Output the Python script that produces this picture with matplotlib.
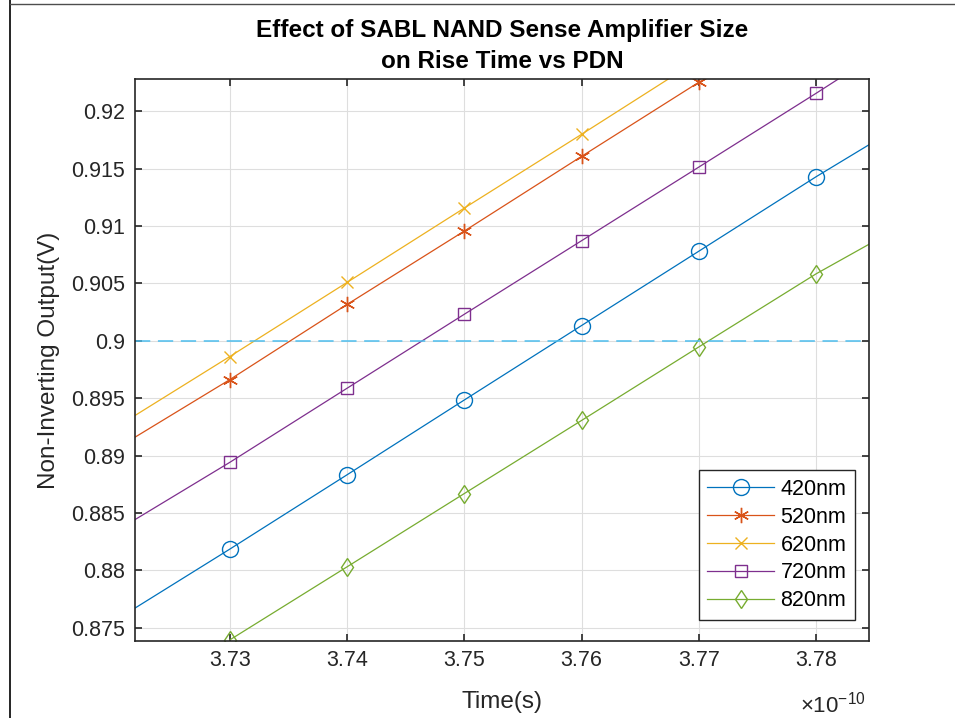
import numpy as np
import matplotlib
matplotlib.use("Agg")
import matplotlib.pyplot as plt
from matplotlib.lines import Line2D

plt.rcParams['font.family'] = ['Liberation Sans', 'DejaVu Sans']
plt.rcParams['mathtext.fontset'] = 'custom'
plt.rcParams['mathtext.rm'] = 'Liberation Sans'

# data (time in units of 1e-10 s, output in V)
t_420 = [3.7219, 3.73, 3.74, 3.75, 3.76, 3.77, 3.78, 3.7845]
v_420 = [0.87669, 0.88184, 0.88832, 0.89484, 0.90133, 0.90781, 0.91430, 0.91708]

t_520 = [3.7219, 3.73, 3.74, 3.75, 3.76, 3.77]
v_520 = [0.89158, 0.89661, 0.90316, 0.90956, 0.91607, 0.92253]

t_620 = [3.7219, 3.73, 3.74, 3.75, 3.76, 3.76737]
v_620 = [0.89347, 0.89862, 0.90508, 0.91156, 0.91799, 0.92279]

t_720 = [3.7219, 3.73, 3.74, 3.75, 3.76, 3.77, 3.78, 3.78186]
v_720 = [0.88440, 0.88940, 0.89586, 0.90231, 0.90872, 0.91514, 0.92157, 0.92279]

t_820 = [3.73, 3.74, 3.75, 3.76, 3.77, 3.78, 3.7845]
v_820 = [0.87393, 0.88030, 0.88669, 0.89306, 0.89947, 0.90584, 0.90841]

labels = ['420nm', '520nm', '620nm', '720nm', '820nm']
threshold = 0.9
xticks = [3.73, 3.74, 3.75, 3.76, 3.77, 3.78]
yticks = ['0.875', '0.88', '0.885', '0.89', '0.895', '0.9',
          '0.905', '0.91', '0.915', '0.92']

colors = [(0, 0.447, 0.741), (0.85, 0.325, 0.098), (0.929, 0.694, 0.125),
          (0.494, 0.184, 0.556), (0.466, 0.674, 0.188)]

fig = plt.figure(figsize=(9.55, 7.18), dpi=100)
ax = fig.add_axes([0.141, 0.1077, 0.769, 0.782])

series = [
    (t_420, v_420, 'o', 11.5, [1, 2, 3, 4, 5, 6]),
    (t_520, v_520, (6, 2, 0), 11, [1, 2, 3, 4, 5]),
    (t_620, v_620, 'x', 9, [1, 2, 3, 4]),
    (t_720, v_720, 's', 8, [1, 2, 3, 4, 5, 6]),
    (t_820, v_820, 'd', 9.5, [0, 1, 2, 3, 4, 5]),
]

for (t, v, mk, ms, idx), lab, c in zip(series, labels, colors):
    ax.plot(np.array(t) * 1e-10, v, color=c, lw=0.9, marker=mk, ms=ms,
            markevery=idx, mfc='none', mec=c, mew=1.0, label=lab)

ax.axhline(threshold, color=(0.3, 0.745, 0.933), lw=1.1, ls=(0, (10, 5)))

ax.set_xlim(3.7219e-10, 3.7845e-10)
ax.set_ylim(0.87387, 0.92279)
ax.set_xticks(np.array(xticks) * 1e-10)
ax.set_xticklabels([f'{x:.2f}' for x in xticks])
ax.set_yticks([float(s) for s in yticks])
ax.set_yticklabels(yticks)

dark = (0.15, 0.15, 0.15)
ax.grid(True, color=(0.87, 0.87, 0.87), lw=0.8)
ax.set_axisbelow(True)
for s in ax.spines.values():
    s.set_color(dark)
    s.set_linewidth(1.2)
ax.tick_params(direction='in', length=5, width=1.2, color=dark,
               labelsize=15.5, labelcolor=dark, top=True, right=True, pad=7)

# exponent label like MATLAB's
ax.text(0.996, -0.114, r'$\times10^{-10}$', transform=ax.transAxes,
        ha='right', va='center', fontsize=16, color=dark)

ax.set_xlabel('Time(s)', fontsize=17.5, color=dark, labelpad=14)
ax.set_ylabel('Non-Inverting Output(V)', fontsize=17.5, color=dark, labelpad=8)
ax.set_title('Effect of SABL NAND Sense Amplifier Size\non Rise Time vs PDN',
             fontsize=17.5, fontweight='bold', linespacing=1.45, pad=8)

leg = ax.legend(loc='lower right', bbox_to_anchor=(0.981, 0.037), borderaxespad=0,
                fontsize=15.5, handlelength=3.1, labelspacing=0.32,
                fancybox=False, framealpha=1, edgecolor=dark, borderpad=0.4,
                handletextpad=0.3)
leg.get_frame().set_linewidth(1.0)

# screenshot frame edges
fig.add_artist(Line2D([10 / 955, 10 / 955], [0, 1], transform=fig.transFigure,
                      color='black', lw=1.2))
fig.add_artist(Line2D([10 / 955, 1], [1 - 4 / 718, 1 - 4 / 718],
                      transform=fig.transFigure, color='0.3', lw=1.0))

fig.savefig('out.png', dpi=100)
